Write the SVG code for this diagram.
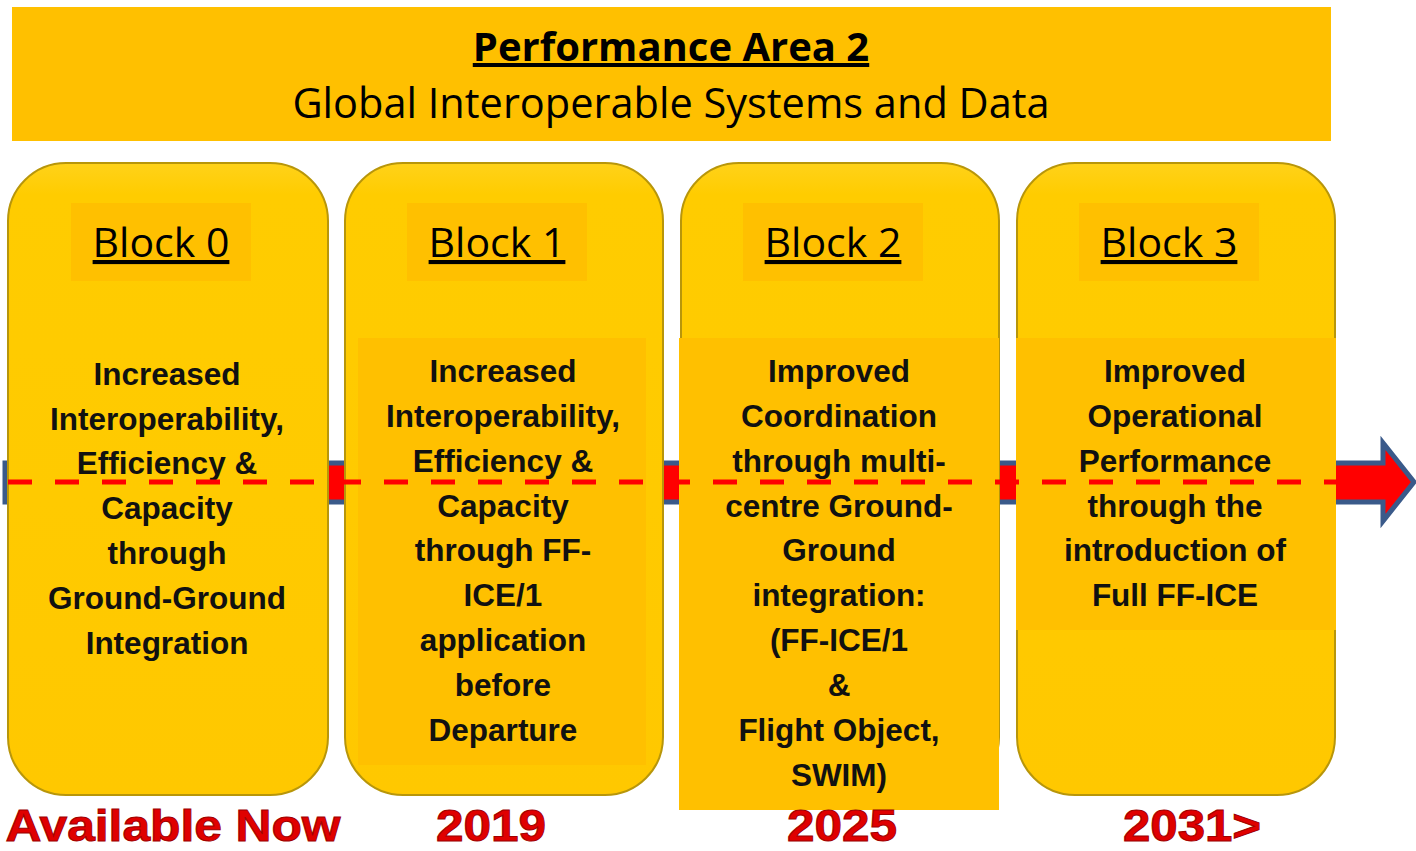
<svg xmlns="http://www.w3.org/2000/svg" width="1416" height="851" viewBox="0 0 1416 851">
<style>
.blk{fill:url(#bg);stroke:#B8960A;stroke-width:2}
.lab{fill:#FFC000}
.t{font-family:"Liberation Sans",Arial,sans-serif;font-weight:bold;font-size:31.5px;fill:#111;text-anchor:middle}
.bl{font-family:"Open Sans","Liberation Sans",sans-serif;font-size:41px;fill:#000;text-anchor:middle;text-decoration:underline}
.yr{font-family:"Liberation Sans",Arial,sans-serif;font-weight:bold;font-size:45px;fill:#E00000;stroke:#A00000;stroke-width:1;text-anchor:middle}
</style>
<defs>
<linearGradient id="bg" x1="0" y1="0" x2="0" y2="1">
<stop offset="0" stop-color="#FFD21A"/>
<stop offset="0.05" stop-color="#FFCC00"/>
<stop offset="1" stop-color="#FFC800"/>
</linearGradient>
</defs>
<rect width="1416" height="851" fill="#fff"/>
<g id="title">
<rect x="12" y="7" width="1319" height="134" fill="#FFC000"/>
<text x="671" y="61" font-family="Open Sans,Liberation Sans,sans-serif" font-weight="bold" font-size="40" text-anchor="middle" text-decoration="underline">Performance Area 2</text>
<text x="671" y="118" font-family="Open Sans,Liberation Sans,sans-serif" font-size="41.5" text-anchor="middle">Global Interoperable Systems and Data</text>
</g>
<g id="arrow">
<polygon points="5,463 1383,463 1383,443 1414,482 1383,521 1383,502 5,502" fill="#FF0000" stroke="#3A5A8A" stroke-width="5" stroke-linejoin="miter"/>
</g>
<g id="block0">
<rect class="blk" x="8" y="163" width="320" height="632" rx="58"/>
<rect class="lab" x="71" y="203" width="180" height="78"/>
<text class="bl" x="161" y="257">Block 0</text>
<text class="t" x="167" y="385">Increased</text>
<text class="t" x="167" y="430">Interoperability,</text>
<text class="t" x="167" y="474">Efficiency &amp;</text>
<text class="t" x="167" y="519">Capacity</text>
<text class="t" x="167" y="564">through</text>
<text class="t" x="167" y="609">Ground-Ground</text>
<text class="t" x="167" y="654">Integration</text>
</g>
<g id="block1">
<rect class="blk" x="345" y="163" width="318" height="632" rx="58"/>
<rect class="lab" x="407" y="203" width="180" height="78"/>
<rect class="lab" x="358" y="338" width="288" height="427"/>
<text class="bl" x="497" y="257">Block 1</text>
<text class="t" x="503" y="382">Increased</text>
<text class="t" x="503" y="427">Interoperability,</text>
<text class="t" x="503" y="472">Efficiency &amp;</text>
<text class="t" x="503" y="517">Capacity</text>
<text class="t" x="503" y="561">through FF-</text>
<text class="t" x="503" y="606">ICE/1</text>
<text class="t" x="503" y="651">application</text>
<text class="t" x="503" y="696">before</text>
<text class="t" x="503" y="741">Departure</text>
</g>
<g id="block2">
<rect class="blk" x="681" y="163" width="318" height="632" rx="58"/>
<rect class="lab" x="743" y="203" width="180" height="78"/>
<rect class="lab" x="679" y="338" width="320" height="472"/>
<text class="bl" x="833" y="257">Block 2</text>
<text class="t" x="839" y="382">Improved</text>
<text class="t" x="839" y="427">Coordination</text>
<text class="t" x="839" y="472">through multi-</text>
<text class="t" x="839" y="517">centre Ground-</text>
<text class="t" x="839" y="561">Ground</text>
<text class="t" x="839" y="606">integration:</text>
<text class="t" x="839" y="651">(FF-ICE/1</text>
<text class="t" x="839" y="696">&amp;</text>
<text class="t" x="839" y="741">Flight Object,</text>
<text class="t" x="839" y="786">SWIM)</text>
</g>
<g id="block3">
<rect class="blk" x="1017" y="163" width="318" height="632" rx="58"/>
<rect class="lab" x="1079" y="203" width="180" height="78"/>
<rect class="lab" x="1016" y="338" width="320" height="292"/>
<text class="bl" x="1169" y="257">Block 3</text>
<text class="t" x="1175" y="382">Improved</text>
<text class="t" x="1175" y="427">Operational</text>
<text class="t" x="1175" y="472">Performance</text>
<text class="t" x="1175" y="517">through the</text>
<text class="t" x="1175" y="561">introduction of</text>
<text class="t" x="1175" y="606">Full FF-ICE</text>
</g>
<g id="connectors">
<line x1="8" y1="482" x2="1336" y2="482" stroke="#FF0000" stroke-width="5" stroke-dasharray="24,23"/>
</g>
<g id="years">
<text class="yr" x="173" y="841" textLength="335" lengthAdjust="spacingAndGlyphs">Available Now</text>
<text class="yr" x="491" y="841" textLength="110" lengthAdjust="spacingAndGlyphs">2019</text>
<text class="yr" x="842" y="841" textLength="110" lengthAdjust="spacingAndGlyphs">2025</text>
<text class="yr" x="1192" y="841" textLength="138" lengthAdjust="spacingAndGlyphs">2031&gt;</text>
</g>
</svg>
